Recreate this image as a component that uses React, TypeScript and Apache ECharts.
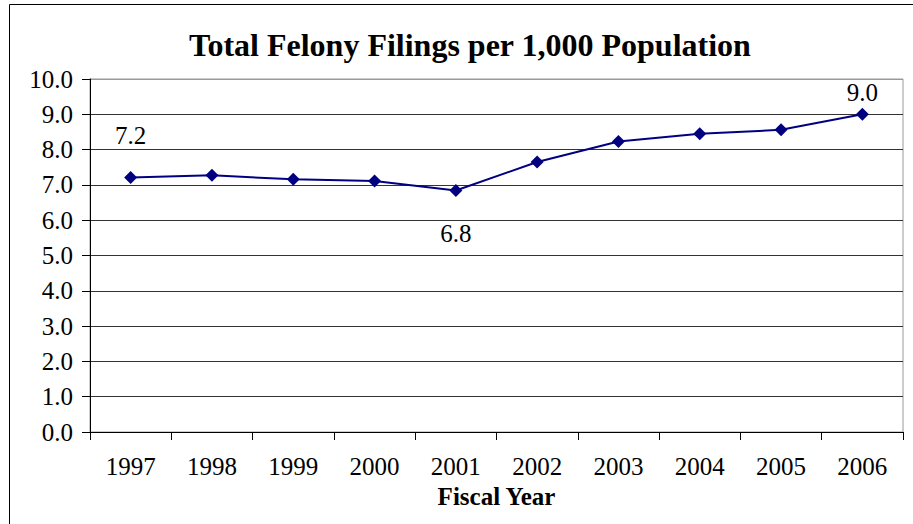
import React, { useEffect, useRef } from "react";
import * as echarts from "echarts";

const years = ["1997", "1998", "1999", "2000", "2001", "2002", "2003", "2004", "2005", "2006"];
const filings = [7.21, 7.27, 7.16, 7.11, 6.84, 7.65, 8.23, 8.45, 8.56, 9.0];
const yTicks = ["0.0", "1.0", "2.0", "3.0", "4.0", "5.0", "6.0", "7.0", "8.0", "9.0", "10.0"];
const labelled: { [k: number]: { text: string; pos: string; off: number } } = {
  0: { text: "7.2", pos: "top", off: -18 },
  4: { text: "6.8", pos: "bottom", off: 19 },
  9: { text: "9.0", pos: "top", off: 2 },
};

const FONT = "Liberation Serif";

export default function App() {
  const ref = useRef<HTMLDivElement>(null);
  useEffect(() => {
    document.body.style.margin = "0";
    const chart = echarts.init(ref.current!, null, { renderer: "svg" });
    const splitColors = yTicks.map(() => "#333");
    splitColors[10] = "#999";
    chart.setOption({
      animation: false,
      backgroundColor: "#fff",
      textStyle: { fontFamily: FONT, color: "#000" },
      title: {
        text: "Total Felony Filings per 1,000 Population",
        left: 184,
        top: 24,
        textStyle: { fontFamily: FONT, fontWeight: "bold", fontSize: 32, color: "#000" },
      },
      graphic: [
        {
          type: "rect",
          shape: { x: 9.5, y: 4.5, width: 920, height: 540 },
          style: { fill: "none", stroke: "#000", lineWidth: 1 },
          silent: true,
        },
      ],
      grid: { left: 90, right: 10, top: 79, bottom: 92, show: true, borderColor: "#999", borderWidth: 1 },
      xAxis: {
        type: "category",
        data: years,
        boundaryGap: true,
        name: "Fiscal Year",
        nameLocation: "middle",
        nameGap: 48,
        nameTextStyle: { fontFamily: FONT, fontWeight: "bold", fontSize: 25, color: "#000" },
        axisLine: { show: true, lineStyle: { color: "#000", width: 1 } },
        axisTick: { show: true, length: 8, inside: false, alignWithLabel: false, lineStyle: { color: "#000" } },
        axisLabel: { fontFamily: FONT, fontSize: 25, color: "#000", margin: 22, interval: 0 },
        splitLine: { show: false },
      },
      yAxis: {
        type: "value",
        min: 0,
        max: 10,
        interval: 1,
        axisLine: { show: true, lineStyle: { color: "#000", width: 1 } },
        axisTick: { show: true, length: 8, inside: false, lineStyle: { color: "#000" } },
        axisLabel: {
          fontFamily: FONT,
          fontSize: 25,
          color: "#000",
          margin: 17,
          formatter: (v: number) => yTicks[Math.round(v)],
        },
        splitLine: { show: true, lineStyle: { color: splitColors, width: 1 } },
      },
      series: [
        {
          type: "line",
          data: filings.map((v, i) => {
            const l = labelled[i];
            return l
              ? {
                  value: v,
                  label: {
                    show: true,
                    position: l.pos,
                    offset: [0, l.off],
                    formatter: l.text,
                    fontFamily: FONT,
                    fontSize: 25,
                    color: "#000",
                  },
                }
              : v;
          }),
          symbol: "diamond",
          symbolSize: 13,
          itemStyle: { color: "#000080" },
          lineStyle: { color: "#000080", width: 2 },
          label: { show: false, fontFamily: FONT },
        },
      ],
    });
    return () => chart.dispose();
  }, []);
  return <div ref={ref} style={{ width: 913, height: 524 }} />;
}
